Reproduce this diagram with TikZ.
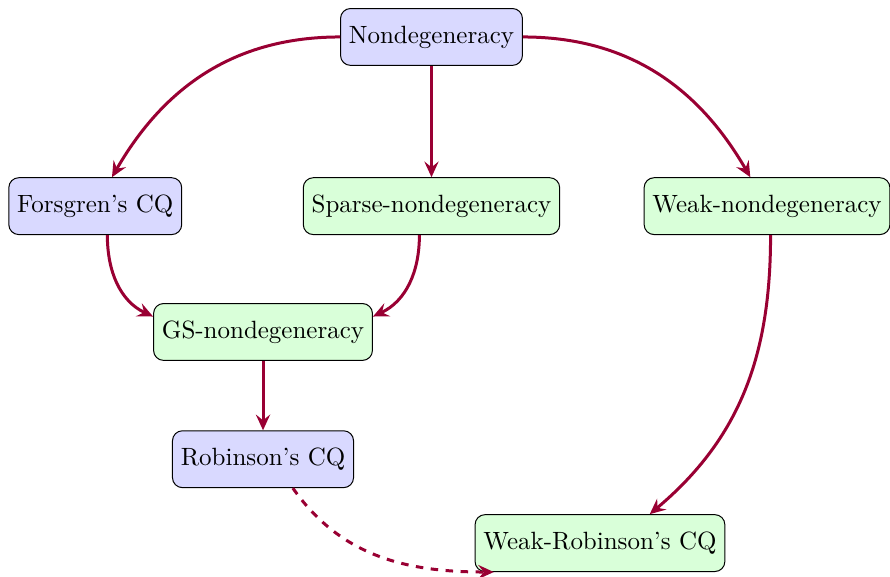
\documentclass[tikz,border=0pt]{standalone}
\usetikzlibrary{arrows.meta,calc}
\definecolor{arrowred}{RGB}{153,0,51}
\tikzset{
  cond/.style={draw, rounded corners, minimum height=0.8cm, fill=#1},
  cond/.default={blue!15},
  impl/.style={very thick, arrowred, -{Stealth[length=2.2mm, width=2mm, inset=0.8mm]}}
}
\begin{document}
\begin{tikzpicture}
\useasboundingbox (0,0) rectangle (12.52,-8.115);
\node[cond] (nondeg) at (6.07,-0.52) {Nondegeneracy};
\node[cond] (forsgren) at (1.34,-2.90) {Forsgren's CQ};
\node[cond=green!15] (sparse) at (6.07,-2.90) {Sparse-nondegeneracy};
\node[cond=green!15] (weak) at (10.79,-2.90) {Weak-nondegeneracy};
\node[cond=green!15] (gs) at (3.70,-4.67) {GS-nondegeneracy};
\node[cond] (robinson) at (3.70,-6.46) {Robinson's CQ};
\node[cond=green!15] (weakrob) at (8.44,-7.64) {Weak-Robinson's CQ};
\draw[impl] (nondeg.west) to[out=180,in=60] (forsgren);
\draw[impl] (nondeg) -- (sparse);
\draw[impl] (nondeg.east) to[out=0,in=120] (weak);
\draw[impl] ($(forsgren.south)+(0.17,0)$) to[out=-90,in=155] (gs.172);
\draw[impl] ($(sparse.south)+(-0.17,0)$) to[out=-90,in=25] (gs.8);
\draw[impl] (gs) -- (robinson);
\draw[impl] ($(weak.south)+(0.05,0)$) to[out=-90,in=40] ($(weakrob.north)+(0.7,0)$);
\draw[impl, dashed] ($(robinson.south)+(0.42,0)$) to[out=-55,in=180] ($(weakrob.south west)+(0.27,0)$);
\end{tikzpicture}
\end{document}
